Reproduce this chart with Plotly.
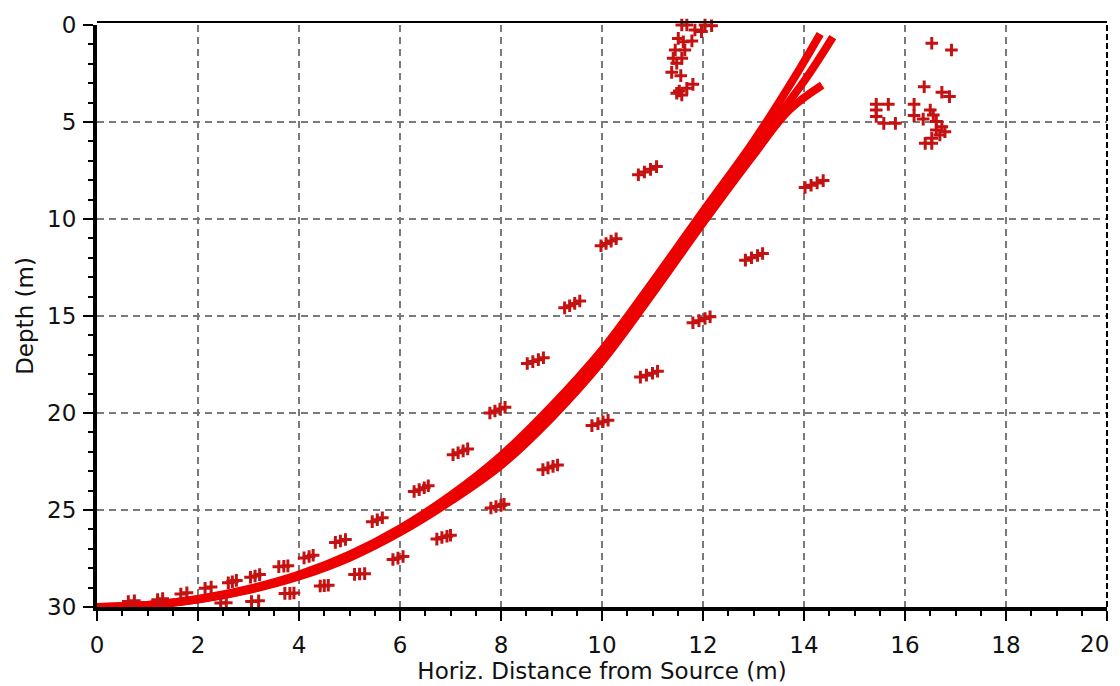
import plotly.graph_objects as go

# ---------------- data ----------------
x_ticks = [0, 2, 4, 6, 8, 10, 12, 14, 16, 18, 20]
y_ticks = [0, 5, 10, 15, 20, 25, 30]

# direct ray fan (three edge/centre rays of the dense band)
ray1_x = [0, 1, 2, 3, 4, 5, 6, 7, 8, 9, 10, 11, 12, 13, 13.8, 14.32]
ray1_d = [30.0, 29.89, 29.58, 29.07, 28.33, 27.3, 25.95, 24.25, 22.2, 19.65, 16.75, 13.25, 9.6, 6.0, 2.75, 0.46]
ray2_x = [0, 1, 2, 3, 4, 5, 6, 7, 8, 9, 10, 11, 12, 13, 14.0, 14.57]
ray2_d = [30.0, 29.9, 29.6, 29.1, 28.38, 27.38, 26.05, 24.4, 22.45, 19.95, 17.05, 13.55, 9.9, 6.35, 2.9, 0.62]
ray3_x = [0, 1, 2, 3, 4, 5, 6, 7, 8, 9, 10, 11, 12, 13, 13.7, 14.36]
ray3_d = [30.0, 29.91, 29.62, 29.13, 28.43, 27.46, 26.15, 24.55, 22.7, 20.25, 17.35, 13.85, 10.2, 6.7, 4.4, 3.1]

# scattered "+" arrivals (multiples)
mult_x = [
    0.62, 0.74, 1.20, 1.30, 1.66, 1.78, 2.14, 2.26, 2.45, 2.56,
    2.60, 2.68, 2.76, 3.04, 3.13, 3.22, 3.06, 3.20, 3.60, 3.70, 3.78,
    3.72, 3.82, 3.90, 4.10, 4.20, 4.28, 4.42, 4.50, 4.58,
    4.72, 4.82, 4.92, 5.10, 5.20, 5.30, 5.45, 5.55, 5.65, 5.86, 5.96, 6.06,
    6.28, 6.38, 6.48, 6.56, 6.73, 6.83, 6.93, 7.00,
    7.05, 7.15, 7.25, 7.34, 7.80, 7.90, 8.00, 8.06,
    7.78, 7.88, 7.98, 8.08, 8.52, 8.63, 8.74, 8.84,
    8.83, 8.93, 9.03, 9.12, 9.26, 9.36, 9.46, 9.56,
    9.80, 9.92, 10.02, 10.12, 9.98, 10.08, 10.18, 10.28,
    10.72, 10.84, 10.96, 11.08, 10.76, 10.88, 11.00, 11.10,
    11.80, 11.92, 12.04, 12.14, 12.84, 12.96, 13.08, 13.18,
    14.02, 14.14, 14.26, 14.38,
    # column near x = 11.6 at the surface
    11.58, 11.68, 11.84, 12.04, 12.17, 11.97, 11.51, 11.61, 11.78,
    11.45, 11.64, 11.41, 11.58, 11.48, 11.38, 11.56, 11.48, 11.58,
    11.68, 11.80, 11.53,
    # cluster near x = 16
    16.53, 16.92, 16.38, 16.73, 16.88, 15.43, 15.67, 15.43, 15.43,
    15.58, 15.81, 16.18, 16.18, 16.36, 16.50, 16.56, 16.62, 16.73,
    16.79, 16.69, 16.53, 16.40, 16.53, 16.62,
]
mult_d = [
    29.72, 29.68, 29.62, 29.57, 29.33, 29.27, 29.03, 28.97, 29.80, 29.78,
    28.75, 28.70, 28.63, 28.47, 28.40, 28.33, 29.72, 29.68, 27.92, 27.90, 27.88,
    29.30, 29.30, 29.28, 27.47, 27.40, 27.33, 28.92, 28.90, 28.88,
    26.67, 26.60, 26.52, 28.32, 28.30, 28.28, 25.60, 25.50, 25.40, 27.55, 27.48, 27.40,
    24.05, 23.95, 23.85, 23.75, 26.50, 26.42, 26.35, 26.30,
    22.15, 22.05, 21.95, 21.85, 24.90, 24.82, 24.75, 24.70,
    20.00, 19.90, 19.80, 19.70, 17.45, 17.35, 17.25, 17.15,
    22.92, 22.83, 22.75, 22.68, 14.58, 14.47, 14.35, 14.23,
    20.65, 20.55, 20.45, 20.37, 11.38, 11.26, 11.14, 11.02,
    7.72, 7.58, 7.44, 7.30, 18.15, 18.05, 17.95, 17.85,
    15.35, 15.24, 15.13, 15.04, 12.12, 12.00, 11.88, 11.78,
    8.38, 8.26, 8.14, 8.02,
    0.00, 0.00, 0.26, 0.00, 0.04, 0.34, 0.69, 0.86, 0.82,
    1.29, 1.29, 1.72, 1.72, 1.97, 2.44, 2.61, 3.52, 3.61,
    3.26, 3.06, 3.40,
    0.94, 1.29, 3.18, 3.47, 3.69, 4.09, 4.09, 4.38, 4.72,
    5.07, 5.07, 4.09, 4.67, 4.85, 4.38, 4.64, 4.98, 5.24,
    5.50, 5.67, 5.84, 6.10, 6.10, 5.41,
]

# ---------------- figure ----------------
BAND = "#ec0000"
MARK = "#c41212"

fig = go.Figure()
for rx, rd in [(ray3_x, ray3_d), (ray1_x, ray1_d), (ray2_x, ray2_d)]:
    fig.add_trace(go.Scatter(x=rx, y=rd, mode="lines",
                             line=dict(color=BAND, width=8, shape="spline"),
                             hoverinfo="skip"))

fig.add_trace(go.Scatter(x=mult_x, y=mult_d, mode="markers", cliponaxis=False,
                         marker=dict(symbol="cross-thin", size=9, color=MARK,
                                     line=dict(color=MARK, width=3)),
                         hoverinfo="skip"))

FONT = "DejaVu Sans"
FS = 23
TICKFONT = dict(family=FONT, size=FS, color="#111")
axis_common = dict(
    showgrid=True, gridcolor="#7a7a7a", gridwidth=1.5, griddash="7px,5px",
    showline=True, linecolor="black", linewidth=4,
    ticks="outside", ticklen=10, tickwidth=1.5, tickcolor="black",
    zeroline=False, automargin=False, tickfont=TICKFONT,
)

# last x label sits at the window edge: draw it right-aligned so it is not clipped
x_tick_text = [str(v) for v in x_ticks[:-1]] + [""]

fig.update_xaxes(range=[0, 20], tickvals=x_ticks, ticktext=x_tick_text,
                 minor=dict(dtick=0.5, tick0=0, ticks="outside", ticklen=5,
                            tickcolor="black", tickwidth=1.5, showgrid=False),
                 ticklabelstandoff=4,
                 title=dict(text="Horiz. Distance from Source (m)", standoff=4,
                            font=dict(family=FONT, size=FS, color="#111")),
                 **axis_common)
fig.update_yaxes(range=[30, 0], tickvals=y_ticks, ticktext=[str(v) for v in y_ticks],
                 minor=dict(dtick=1, tick0=0, ticks="outside", ticklen=5,
                            tickcolor="black", tickwidth=1.5, showgrid=False),
                 ticklabelstandoff=2,
                 title=dict(text="Depth (m)", standoff=8,
                            font=dict(family=FONT, size=FS, color="#111")),
                 **axis_common)

fig.add_annotation(x=x_ticks[-1], xref="x", y=0, yref="paper", text=str(x_ticks[-1]),
                   showarrow=False, xanchor="right", yanchor="top",
                   xshift=4, yshift=-22, font=TICKFONT)

# frame: thin solid top edge, dashed right edge
fig.add_shape(type="line", xref="paper", yref="paper", x0=0, x1=1, y0=1.005, y1=1.005,
              line=dict(color="black", width=2))
fig.add_shape(type="line", xref="paper", yref="paper", x0=1, x1=1, y0=0, y1=1.005,
              line=dict(color="black", width=2, dash="6px,3px"))

# the page adds an 8 px body margin, so the figure is sized to fit the window
fig.update_layout(width=1112, height=678,
                  margin=dict(l=89, r=13, t=17, b=79),
                  paper_bgcolor="white", plot_bgcolor="white",
                  showlegend=False, font=dict(family=FONT, size=FS, color="#111"))

fig.write_html("out.html")
